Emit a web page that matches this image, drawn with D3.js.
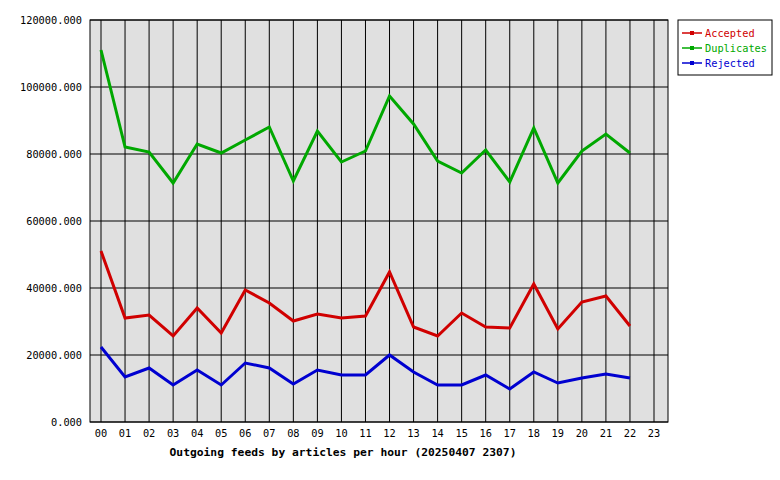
<!DOCTYPE html><html><head><meta charset="utf-8">
<script src="https://cdn.jsdelivr.net/npm/d3@7"></script>
<style>body{margin:0;background:#fff}text{font-family:"DejaVu Sans Mono",monospace;font-size:10.3px}</style>
</head><body><svg id="c" width="780" height="480"></svg><script>
const hours=["00","01","02","03","04","05","06","07","08","09","10","11","12","13","14","15","16","17","18","19","20","21","22","23"];
const yTicks=[0,20000,40000,60000,80000,100000,120000];
const accepted=[51045,31045,31940,25672,34030,26567,39403,35522,30149,32239,31045,31642,44776,28358,25672,32537,28358,28060,41194,27761,35821,37612,28657];
const duplicates=[111045,82090,80597,71343,82985,80299,84179,88060,71940,86866,77612,80896,97313,88955,77910,74328,81194,71642,87761,71343,80896,85970,80299];
const rejected=[22388,13433,16119,11045,15522,11045,17612,16119,11343,15522,14030,14030,20000,14925,11045,11045,14030,9851,14925,11642,13134,14328,13134];
const series=[{name:"Accepted",v:accepted,c:"#d00000"},{name:"Duplicates",v:duplicates,c:"#00a800"},{name:"Rejected",v:rejected,c:"#0000d0"}];
const svg=d3.select("#c");
const L=90,R=668,T=20,B=422;
const x=d3.scalePoint().domain(hours).range([101,654]);
const y=d3.scaleLinear().domain([0,120000]).range([B,T]);
svg.append("rect").attr("x",L).attr("y",T).attr("width",R-L).attr("height",B-T).attr("fill","#e0e0e0");
svg.append("g").selectAll("line").data(hours).join("line").attr("x1",d=>x(d)).attr("x2",d=>x(d)).attr("y1",T).attr("y2",B).attr("stroke","#000").attr("stroke-width",1);
svg.append("g").selectAll("line").data(yTicks).join("line").attr("x1",L).attr("x2",R).attr("y1",d=>y(d)).attr("y2",d=>y(d)).attr("stroke","#000");
svg.append("rect").attr("x",L).attr("y",T).attr("width",R-L).attr("height",B-T).attr("fill","none").attr("stroke","#000");
svg.append("g").selectAll("text").data(yTicks).join("text").attr("x",L-8).attr("y",d=>y(d)+4).attr("text-anchor","end").text(d=>d+".000");
svg.append("g").selectAll("text").data(hours).join("text").attr("x",d=>x(d)).attr("y",B+15).attr("text-anchor","middle").text(d=>d);
svg.append("text").attr("x",343).attr("y",456).attr("text-anchor","middle").attr("font-weight","bold").style("font-size","11.3px").text("Outgoing feeds by articles per hour (20250407 2307)");
const line=d3.line().x((d,i)=>x(hours[i])).y(d=>y(d));
series.forEach(s=>svg.append("path").attr("d",line(s.v)).attr("fill","none").attr("stroke",s.c).attr("stroke-width",3));
const lg=svg.append("g");
lg.append("rect").attr("x",678).attr("y",20).attr("width",94).attr("height",55).attr("fill","#fff").attr("stroke","#000");
series.forEach((s,i)=>{const yy=33+i*15;
lg.append("line").attr("x1",682).attr("x2",702).attr("y1",yy).attr("y2",yy).attr("stroke",s.c).attr("stroke-width",1.5);
lg.append("rect").attr("x",690).attr("y",yy-2).attr("width",4).attr("height",4).attr("fill",s.c);
lg.append("text").attr("x",705).attr("y",yy+4).attr("fill",s.c).text(s.name);});
</script></body></html>
